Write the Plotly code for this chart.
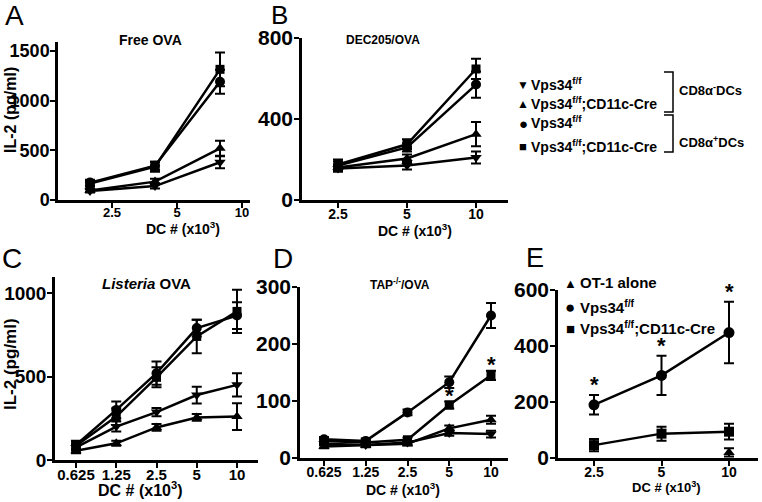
import math
import plotly.graph_objects as go

# ---------------- data ----------------
dc_3 = [2.5, 5, 10]
dc_5 = [0.625, 1.25, 2.5, 5, 10]
tick_3 = ["2.5", "5", "10"]
tick_5 = ["0.625", "1.25", "2.5", "5", "10"]

series_names = ["Vps34<sup>f/f</sup>", "Vps34<sup>f/f</sup>;CD11c-Cre",
                "Vps34<sup>f/f</sup>", "Vps34<sup>f/f</sup>;CD11c-Cre"]

# Panel A: Free OVA
A_neg_ff = [90, 140, 380];   A_neg_ff_err = [15, 25, 60]
A_neg_cre = [95, 185, 520];  A_neg_cre_err = [15, 30, 75]
A_pos_ff = [175, 345, 1190]; A_pos_ff_err = [30, 40, 120]
A_pos_cre = [165, 335, 1315]; A_pos_cre_err = [30, 50, 170]

# Panel B: DEC205/OVA
B_neg_ff = [155, 170, 210];  B_neg_ff_err = [15, 20, 30]
B_neg_cre = [160, 205, 325]; B_neg_cre_err = [15, 20, 60]
B_pos_ff = [170, 260, 570];  B_pos_ff_err = [20, 20, 65]
B_pos_cre = [175, 275, 647]; B_pos_cre_err = [25, 25, 50]

# Panel C: Listeria OVA
C_neg_ff = [75, 200, 287, 389, 450];  C_neg_ff_err = [20, 30, 25, 50, 70]
C_neg_cre = [55, 100, 195, 255, 260]; C_neg_cre_err = [15, 15, 20, 20, 80]
C_pos_ff = [90, 300, 520, 790, 865];  C_pos_ff_err = [25, 50, 70, 50, 80]
C_pos_cre = [85, 260, 495, 740, 890]; C_pos_cre_err = [25, 50, 60, 100, 130]

# Panel D: TAP-/-/OVA
D_neg_ff = [25, 23, 27, 44, 42];    D_neg_ff_err = [3, 3, 3, 5, 6]
D_neg_cre = [20, 22, 25, 52, 67];   D_neg_cre_err = [3, 3, 3, 5, 7]
D_pos_ff = [33, 30, 80, 133, 250];  D_pos_ff_err = [4, 4, 5, 10, 22]
D_pos_cre = [30, 27, 32, 93, 145];  D_pos_cre_err = [4, 4, 4, 6, 8]
D_star_idx = [3, 4]

# Panel E
E_names = ["OT-1 alone", "Vps34<sup>f/f</sup>", "Vps34<sup>f/f</sup>;CD11c-Cre"]
E_ot1 = [None, None, 20];   E_ot1_err = [0, 0, 15]
E_ff = [190, 295, 448];     E_ff_err = [35, 70, 110]
E_cre = [46, 87, 94];       E_cre_err = [22, 25, 28]
E_star_idx = [0, 1, 2]

# ---------------- layout helpers ----------------
W, H = 762, 502
FONT = "Liberation Sans, Arial, sans-serif"
NARROW = "Liberation Sans Narrow, Arial Narrow, Liberation Sans, sans-serif"


def fx(p):
    return p / W


def fy(p):
    return 1 - p / H


def logrange(x0, x1, v, p, s):
    l2 = math.log10(2)
    return [math.log10(v) - (p - x0) / s * l2, math.log10(v) + (x1 - p) / s * l2]


fig = go.Figure()

symbols = ["triangle-down", "triangle-up", "circle", "square"]
msize = [10, 10, 10, 9]


def add_series(xs, ys, errs, sym, size, xa, ya, lines=True):
    fig.add_trace(go.Scatter(
        x=xs, y=ys, xaxis=xa, yaxis=ya,
        mode="lines+markers" if lines else "markers",
        line=dict(color="black", width=2.5),
        marker=dict(symbol=sym, size=size, color="black"),
        error_y=dict(type="data", array=errs, color="black", thickness=2, width=5),
        showlegend=False, hoverinfo="skip", cliponaxis=False,
    ))


panels = [
    ("x", "y", dc_3, [A_neg_ff, A_neg_cre, A_pos_ff, A_pos_cre],
     [A_neg_ff_err, A_neg_cre_err, A_pos_ff_err, A_pos_cre_err]),
    ("x2", "y2", dc_3, [B_neg_ff, B_neg_cre, B_pos_ff, B_pos_cre],
     [B_neg_ff_err, B_neg_cre_err, B_pos_ff_err, B_pos_cre_err]),
    ("x3", "y3", dc_5, [C_neg_ff, C_neg_cre, C_pos_ff, C_pos_cre],
     [C_neg_ff_err, C_neg_cre_err, C_pos_ff_err, C_pos_cre_err]),
    ("x4", "y4", dc_5, [D_neg_ff, D_neg_cre, D_pos_ff, D_pos_cre],
     [D_neg_ff_err, D_neg_cre_err, D_pos_ff_err, D_pos_cre_err]),
]
for xa, ya, xs, ss, es in panels:
    for k in range(4):
        add_series(xs, ss[k], es[k], symbols[k], msize[k], xa, ya)

add_series(dc_3, E_ot1, E_ot1_err, "triangle-up", 10, "x5", "y5", lines=False)
add_series(dc_3, E_ff, E_ff_err, "circle", 11, "x5", "y5")
add_series(dc_3, E_cre, E_cre_err, "square", 10, "x5", "y5")

# axis geometry (pixel based)
shift_A = 2 ** (22 / 65)
axes = {
    "1": (58, 250, 2.5, 90, 65, 42, 200, 1590, [0, 500, 1000, 1500],
          [v * shift_A for v in dc_3], tick_3, 18, 13, NARROW),
    "2": (302, 508, 2.5, 338, 69, 38, 200, 800, [0, 400, 800], dc_3, tick_3, 21, 14, FONT),
    "3": (55, 258, 0.625, 76, 40.25, 277, 460, 1096, [0, 500, 1000], dc_5, tick_5, 19, 15, NARROW),
    "4": (300, 508, 0.625, 324, 41.75, 287, 458, 300, [0, 100, 200, 300], dc_5, tick_5, 21, 14, FONT),
    "5": (558, 758, 2.5, 594, 67.5, 290, 458, 600, [0, 200, 400, 600], dc_3, tick_3, 21, 14, FONT),
}
layout = dict(width=W, height=H, margin=dict(l=0, r=0, t=0, b=0, pad=0, autoexpand=False),
              paper_bgcolor="white", plot_bgcolor="white", showlegend=False,
              template="none",
              font=dict(family=FONT, color="black"))
for key, (x0, x1, v, p, s, yt, yb, ymax, yticks, xtv, xtt, yfs, xfs, yfam) in axes.items():
    xn = "xaxis" if key == "1" else "xaxis" + key
    yn = "yaxis" if key == "1" else "yaxis" + key
    ya = "y" if key == "1" else "y" + key
    xa = "x" if key == "1" else "x" + key
    layout[xn] = dict(type="log", domain=[fx(x0), fx(x1)], range=logrange(x0, x1, v, p, s),
                      anchor=ya, showline=True, linecolor="black", linewidth=2.5,
                      ticks="outside", ticklen=5, tickwidth=2, tickcolor="black",
                      tickvals=xtv, ticktext=["<b>" + t + "</b>" for t in xtt],
                      ticklabelstandoff=-6,
                      showgrid=False, zeroline=False, automargin=False,
                      tickfont=dict(family=FONT, size=xfs, color="black"))
    layout[yn] = dict(domain=[fy(yb), fy(yt)], range=[0, ymax], anchor=xa,
                      showline=True, linecolor="black", linewidth=2.5,
                      ticks="outside", ticklen=5, tickwidth=2, tickcolor="black",
                      tickvals=yticks, ticktext=["<b>" + str(t) + "</b>" for t in yticks],
                      ticklabelstandoff=-3,
                      showgrid=False, zeroline=False, automargin=False,
                      tickfont=dict(family=yfam, size=yfs, color="black"))
fig.update_layout(**layout)

ann = []


def text(x, y, t, size, bold=True, xanchor="center", yanchor="middle", angle=0):
    s = t
    if bold:
        s = "<b>" + s + "</b>"
    ann.append(dict(x=fx(x), y=fy(y), xref="paper", yref="paper", text=s, showarrow=False,
                    xanchor=xanchor, yanchor=yanchor, textangle=angle,
                    font=dict(family=FONT, size=size, color="black")))


# panel letters
for lx, ly, lt, ls in [(14, 16, "A", 28), (279, 15, "B", 26), (12, 258, "C", 28),
                       (283, 258, "D", 28), (535, 258, "E", 27)]:
    text(lx, ly, lt, ls, bold=False)

# panel titles
text(150, 40, "Free OVA", 14)
text(383, 40, "DEC205/OVA", 12)
text(146, 283, "<i>Listeria</i> OVA", 15)
text(400, 284, "TAP<sup>-/-</sup>/OVA", 12)

# axis titles
text(10, 110, "IL-2 (pg/ml)", 16, angle=-90)
text(10, 364, "IL-2 (pg/ml)", 17, angle=-90)
text(183, 228, "DC # (x10<sup>3</sup>)", 14)
text(415, 230, "DC # (x10<sup>3</sup>)", 14)
text(140, 489, "DC # (x10<sup>3</sup>)", 16)
text(403, 489, "DC # (x10<sup>3</sup>)", 14)
text(666, 487, "DC # (x10<sup>3</sup>)", 13)

# right legend
leg_glyph = ["▼", "▲", "●", "■"]
leg_gsize = [12, 12, 15, 13]
leg_y = [84, 103, 122, 146]
for g, gs, yy, nm in zip(leg_glyph, leg_gsize, leg_y, series_names):
    text(523, yy + 1, g, gs, bold=False)
    text(529, yy, nm, 14, xanchor="left")
text(677, 90, "CD8α<sup>-</sup>DCs", 13, xanchor="left")
text(677, 142, "CD8α<sup>+</sup>DCs", 13, xanchor="left")

shapes = []
for ytop, ybot in [(72, 112), (115, 152)]:
    shapes.append(dict(type="path", xref="paper", yref="paper",
                       path=f"M {fx(664)} {fy(ytop)} L {fx(673)} {fy(ytop)} L {fx(673)} {fy(ybot)} L {fx(664)} {fy(ybot)}",
                       line=dict(color="black", width=1.5)))

# E legend
for g, gs, yy, nm in zip(["▲", "●", "■"], [13, 17, 15], [282, 306, 327], E_names):
    text(570, yy + 1, g, gs, bold=False)
    text(578, yy, nm, 15, xanchor="left")

# asterisks
for i in D_star_idx:
    ann.append(dict(x=math.log10(dc_5[i]), y=D_pos_cre[i] + D_pos_cre_err[i], xref="x4", yref="y4",
                    text="<b>*</b>", showarrow=False, yanchor="bottom", yshift=-8,
                    font=dict(family=FONT, size=22, color="black")))
for i in E_star_idx:
    ann.append(dict(x=math.log10(dc_3[i]), y=E_ff[i] + E_ff_err[i], xref="x5", yref="y5",
                    text="<b>*</b>", showarrow=False, yanchor="bottom", yshift=-4,
                    font=dict(family=FONT, size=22, color="black")))

fig.update_layout(annotations=ann, shapes=shapes)
fig.write_html("out.html", config={"displayModeBar": False},
               post_script="document.body.style.margin='0';")
